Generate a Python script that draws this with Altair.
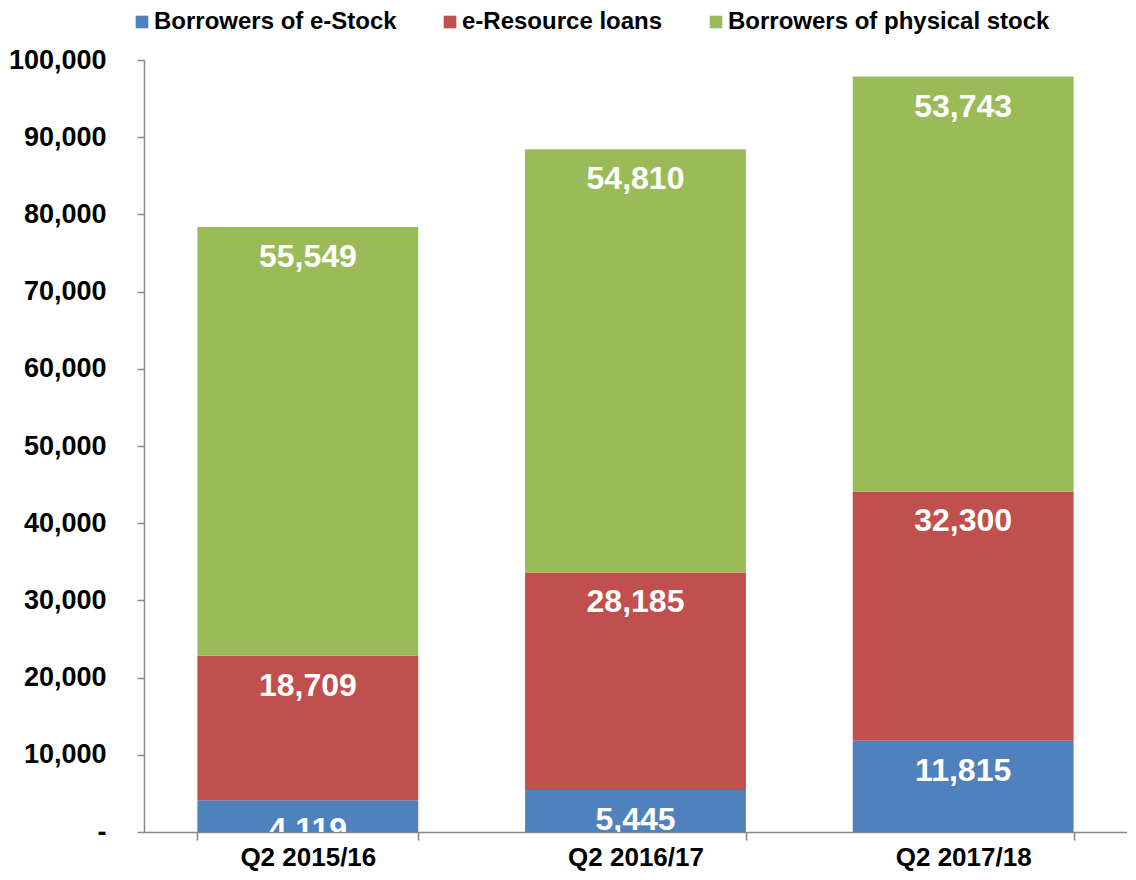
import altair as alt
import pandas as pd

categories = ["Q2 2015/16", "Q2 2016/17", "Q2 2017/18"]
series = ["Borrowers of e-Stock", "e-Resource loans", "Borrowers of physical stock"]
colors = ["#4F81BD", "#C0504D", "#9BBB59"]
e_stock = [4119, 5445, 11815]
e_resource = [18709, 28185, 32300]
physical = [55549, 54810, 53743]

rows = []
for i, c in enumerate(categories):
    for k, (s, vals) in enumerate(zip(series, [e_stock, e_resource, physical])):
        rows.append({"cat": c, "series": s, "value": vals[i], "order": k})
df = pd.DataFrame(rows)

FONT = "Liberation Sans"

x = alt.X("cat:N", sort=categories, title=None,
          scale=alt.Scale(paddingInner=0.326, paddingOuter=0.163),
          axis=alt.Axis(labelAngle=0, labelFontSize=26, labelFontWeight="bold",
                        labelColor="#000000", labelFont=FONT, labelPadding=4,
                        tickBand="extent", tickSize=8, tickColor="#898989", tickWidth=1.5,
                        domainColor="#898989", domainWidth=1.5, grid=False))
y = alt.Y("value:Q", stack="zero", title=None,
          scale=alt.Scale(domain=[0, 100000], nice=False),
          axis=alt.Axis(values=list(range(0, 100001, 10000)),
                        labelExpr="datum.value === 0 ? '-\u00a0\u00a0' : format(datum.value, ',')",
                        labelFontSize=27, labelFontWeight="bold", labelColor="#000000",
                        labelFont=FONT, labelPadding=31, tickSize=7, tickColor="#898989",
                        tickWidth=1.5, domainColor="#898989", domainWidth=1.5, grid=False))

bars = alt.Chart(df).mark_bar().encode(
    x=x, y=y,
    color=alt.Color("series:N", sort=series,
                    scale=alt.Scale(domain=series, range=colors),
                    legend=alt.Legend(title=None, orient="none", direction="horizontal",
                                      legendX=-14, legendY=-50, symbolType="square",
                                      symbolSize=160, symbolStrokeWidth=0,
                                      labelFontSize=24, labelFontWeight="bold",
                                      labelFont=FONT, labelColor="#000000", labelLimit=0,
                                      labelOffset=0, columnPadding=41, padding=0)),
    order=alt.Order("order:Q", sort="ascending"),
)

labels = alt.Chart(df).mark_text(
    color="white", fontSize=32, fontWeight="bold", font=FONT,
    baseline="middle", align="center", dy=30, clip=True
).encode(
    x=alt.X("cat:N", sort=categories),
    y=alt.Y("value:Q", stack="zero"),
    detail="series:N",
    order=alt.Order("order:Q", sort="ascending"),
    text=alt.Text("value:Q", format=","),
)

chart = alt.layer(bars, labels).properties(
    width=983, height=772,
    autosize=alt.AutoSizeParams(type="none"),
    padding={"left": 136, "top": 52, "right": 0, "bottom": 40},
).configure(background="white").configure_view(stroke=None)

chart.save("out.html", embed_options={"renderer": "svg", "actions": False})
